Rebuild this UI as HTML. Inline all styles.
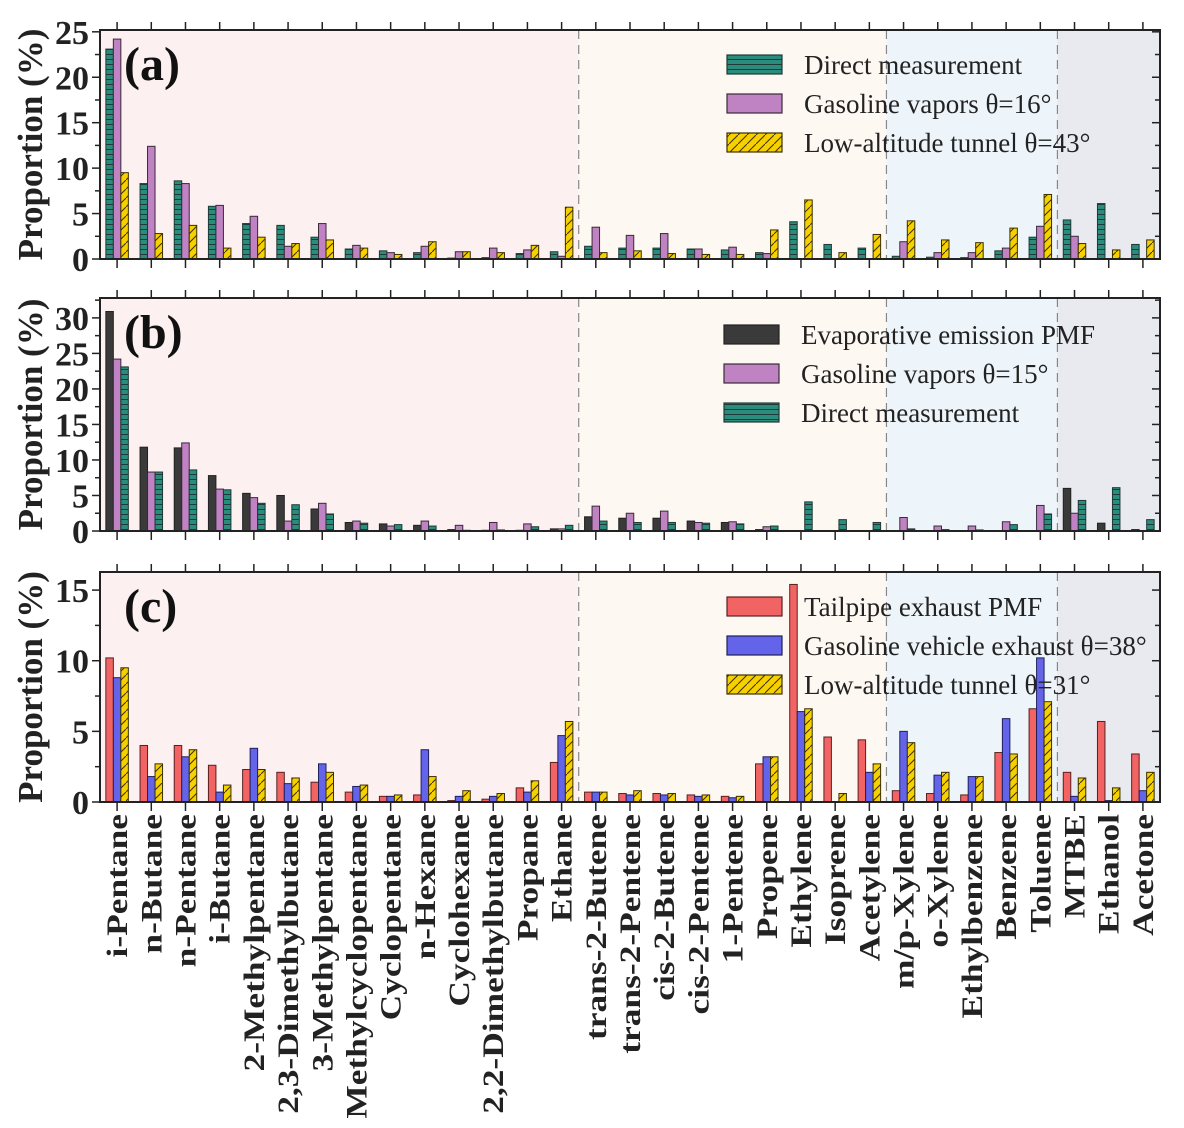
<!DOCTYPE html>
<html><head><meta charset="utf-8">
<style>
html,body{margin:0;padding:0;background:#fff;}
svg{display:block;font-family:"Liberation Serif",serif;}
</style></head>
<body>
<svg id="chart" width="1184" height="1128" viewBox="0 0 1184 1128" xmlns="http://www.w3.org/2000/svg" font-family="Liberation Serif, serif">
<defs>
<pattern id="hatchH" patternUnits="userSpaceOnUse" width="8" height="5"><rect width="8" height="5" fill="#2a8c7c"/><line x1="0" y1="4.5" x2="8" y2="4.5" stroke="#1e3a36" stroke-width="1"/></pattern>
<pattern id="hatchD" patternUnits="userSpaceOnUse" width="9" height="9"><rect width="9" height="9" fill="#f7d000"/><path d="M-2,11 L11,-2" stroke="#3a3000" stroke-width="1"/></pattern>
</defs>
</svg>
<script>
const categories=["i-Pentane","n-Butane","n-Pentane","i-Butane","2-Methylpentane","2,3-Dimethylbutane","3-Methylpentane","Methylcyclopentane","Cyclopentane","n-Hexane","Cyclohexane","2,2-Dimethylbutane","Propane","Ethane","trans-2-Butene","trans-2-Pentene","cis-2-Butene","cis-2-Pentene","1-Pentene","Propene","Ethylene","Isoprene","Acetylene","m/p-Xylene","o-Xylene","Ethylbenzene","Benzene","Toluene","MTBE","Ethanol","Acetone"];
const directMeasurement=[23.1,8.3,8.6,5.8,3.9,3.7,2.4,1.1,0.9,0.7,0.1,0.15,0.6,0.8,1.4,1.2,1.2,1.1,1.0,0.7,4.1,1.6,1.2,0.3,0.2,0.15,0.9,2.4,4.3,6.1,1.6];
const gasolineVapors16=[24.2,12.4,8.3,5.9,4.7,1.4,3.9,1.5,0.7,1.4,0.8,1.2,1.0,0.3,3.5,2.6,2.8,1.1,1.3,0.6,0,0,0,1.9,0.7,0.7,1.2,3.6,2.5,0,0];
const lowTunnel43=[9.5,2.8,3.7,1.2,2.4,1.7,2.1,1.2,0.5,1.9,0.8,0.7,1.5,5.7,0.7,0.9,0.6,0.5,0.5,3.2,6.5,0.7,2.7,4.2,2.1,1.8,3.4,7.1,1.7,1.0,2.1];
const evapPMF=[30.9,11.8,11.7,7.8,5.3,5.0,3.1,1.2,1.0,0.8,0.2,0.1,0.1,0.3,2.0,1.8,1.8,1.4,1.2,0.2,0,0,0,0,0,0,0,0,6.0,1.1,0.2];
const gasolineVapors15=[24.2,8.3,12.4,5.9,4.7,1.4,3.9,1.4,0.7,1.4,0.8,1.2,1.0,0.3,3.5,2.5,2.8,1.2,1.3,0.6,0,0,0,1.9,0.7,0.7,1.3,3.6,2.5,0,0];
const tailpipePMF=[10.2,4.0,4.0,2.6,2.3,2.1,1.4,0.7,0.4,0.5,0.1,0.2,1.0,2.8,0.7,0.6,0.6,0.5,0.4,2.7,15.4,4.6,4.4,0.8,0.6,0.5,3.5,6.6,2.1,5.7,3.4];
const vehicleExhaust38=[8.8,1.8,3.2,0.7,3.8,1.3,2.7,1.1,0.4,3.7,0.4,0.4,0.7,4.7,0.7,0.5,0.5,0.4,0.3,3.2,6.4,0,2.1,5.0,1.9,1.8,5.9,10.2,0.4,0.1,0.8];
const lowTunnel31=[9.5,2.7,3.7,1.2,2.3,1.7,2.1,1.2,0.5,1.8,0.8,0.6,1.5,5.7,0.7,0.8,0.6,0.5,0.4,3.2,6.6,0.6,2.7,4.2,2.1,1.8,3.4,7.1,1.7,1.0,2.1];
const ticksA=[0,5,10,15,20,25], ticksB=[0,5,10,15,20,25,30], ticksC=[0,5,10,15];
const regionBounds=[0,14,23,28,31];

const NS="http://www.w3.org/2000/svg";
const svg=document.getElementById('chart');
function mk(tag,attrs,parent){const e=document.createElementNS(NS,tag);for(const k in attrs)e.setAttribute(k,attrs[k]);(parent||svg).appendChild(e);return e;}
const X0=100,X1=1160,N=categories.length,step=(X1-X0)/N;
const xc=i=>X0+step*(i+0.5);
const bw=7.5;
const regionFill=["#fdf0f0","#fef8f2","#eef5fa","#e9e9f0"];

function panel(id,top,bottom,ymax,ticks,minor,series,legendX,legendY,label){
  const g=mk('g',{});
  
  
  const y=v=>bottom-(v/ymax)*(bottom-top);
  for(let r=0;r<4;r++){
    const bx0=X0+step*regionBounds[r], bx1=X0+step*regionBounds[r+1];
    const rc=mk('rect',{x:bx0,y:top,width:bx1-bx0,height:bottom-top,fill:regionFill[r]},g);
    
    
    if(r>0){const dl=mk('line',{x1:bx0,y1:top,x2:bx0,y2:bottom,stroke:'#888','stroke-width':1.2,'stroke-dasharray':'9,6'},g);
      }
  }
  series.forEach((s,si)=>{
    s.vals.forEach((v,i)=>{
      if(v<=0)return;
      const b=mk('rect',{x:xc(i)+(si-1)*bw-bw/2,y:y(v),width:bw,height:bottom-y(v),fill:s.fill,stroke:s.stroke,'stroke-width':1},g);
      
      
    });
  });
  const fr=mk('rect',{x:X0,y:top,width:X1-X0,height:bottom-top,fill:'none',stroke:'#222','stroke-width':2},g);
  
  for(let i=0;i<N;i++){
    mk('line',{x1:xc(i),y1:bottom,x2:xc(i),y2:bottom+9,stroke:'#222','stroke-width':1.5},g);
    mk('line',{x1:xc(i),y1:top,x2:xc(i),y2:top-8,stroke:'#222','stroke-width':1.5},g);
  }
  for(let v=0;v<=ymax+0.001;v+=minor){
    const major=ticks.some(t=>Math.abs(t-v)<1e-6);
    const L=major?8:5;
    mk('line',{x1:X0,y1:y(v),x2:X0-L,y2:y(v),stroke:'#222','stroke-width':1.5},g);
    mk('line',{x1:X1,y1:y(v),x2:X1-L,y2:y(v),stroke:'#222','stroke-width':1.5},g);
  }
  ticks.forEach(t=>{
    const tl=mk('text',{x:X0-11,y:y(t)+12,'text-anchor':'end','font-size':34,'font-weight':'bold',fill:'#222'},g);
    tl.textContent=t;
    
  });
  const yt=mk('text',{transform:`translate(42,${(top+bottom)/2}) rotate(-90)`,'text-anchor':'middle','font-size':35,'font-weight':'bold',fill:'#222'},g);
  yt.textContent='Proportion (%)';
  
  const pl=mk('text',{x:124,y:top+50,'font-size':48,'font-weight':'bold',fill:'#111'},g);
  pl.textContent=label;
  
  series.forEach((s,si)=>{
    const ly=legendY+si*39;
    const lg=mk('g',{},g);
    
    
    mk('rect',{x:legendX,y:ly-9,width:55,height:19,fill:s.fill,stroke:s.stroke,'stroke-width':1.2},lg);
    const lt=mk('text',{x:legendX+77,y:ly+10,'font-size':27,fill:'#222'},lg);
    lt.textContent=s.name;
  });
}
panel('a',30,259,25.2,ticksA,2.5,[
 {key:'direct-measurement',name:'Direct measurement',vals:directMeasurement,fill:'url(#hatchH)',stroke:'#1e3a36'},
 {key:'gasoline-vapors-16',name:'Gasoline vapors \u03b8=16\u00b0',vals:gasolineVapors16,fill:'#bf82c2',stroke:'#3a2a3a'},
 {key:'low-altitude-tunnel-43',name:'Low-altitude tunnel \u03b8=43\u00b0',vals:lowTunnel43,fill:'url(#hatchD)',stroke:'#3a3000'}
],727,64,'(a)');
panel('b',298,531,32.8,ticksB,2.5,[
 {key:'evaporative-pmf',name:'Evaporative emission PMF',vals:evapPMF,fill:'#3a3a3a',stroke:'#222'},
 {key:'gasoline-vapors-15',name:'Gasoline vapors \u03b8=15\u00b0',vals:gasolineVapors15,fill:'#bf82c2',stroke:'#3a2a3a'},
 {key:'direct-measurement-b',name:'Direct measurement',vals:directMeasurement,fill:'url(#hatchH)',stroke:'#1e3a36'}
],724,334,'(b)');
panel('c',572,802,16.28,ticksC,2.5,[
 {key:'tailpipe-pmf',name:'Tailpipe exhaust PMF',vals:tailpipePMF,fill:'#f26464',stroke:'#5a2020'},
 {key:'vehicle-exhaust-38',name:'Gasoline vehicle exhaust \u03b8=38\u00b0',vals:vehicleExhaust38,fill:'#6464ea',stroke:'#20205a'},
 {key:'low-altitude-tunnel-31',name:'Low-altitude tunnel \u03b8=31\u00b0',vals:lowTunnel31,fill:'url(#hatchD)',stroke:'#3a3000'}
],727,606,'(c)');
categories.forEach((c,i)=>{
  const t=mk('text',{transform:`translate(${xc(i)+10},814) rotate(-90) scale(1.18,1)`,'text-anchor':'end','font-size':30,'font-weight':'bold',fill:'#222'});
  t.textContent=c;
  
  
});
</script>
</body></html>
